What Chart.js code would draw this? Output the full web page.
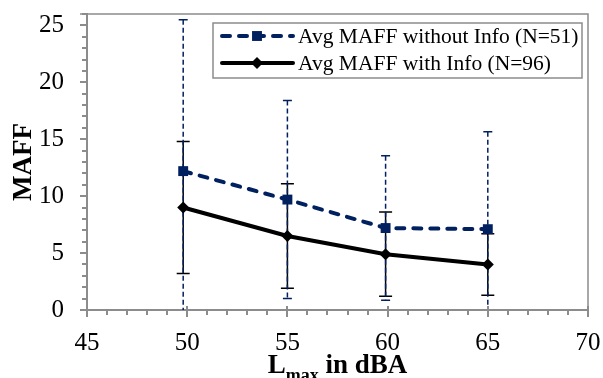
<!DOCTYPE html>
<html><head><meta charset="utf-8">
<script src="https://cdn.jsdelivr.net/npm/chart.js@4.4.1/dist/chart.umd.min.js"></script>
<style>html,body{margin:0;padding:0;background:#fff;}#c{display:block;}</style>
</head><body>
<canvas id="c" width="603" height="378"></canvas>
<script>
// ---- data ----
const xValues = [49.8, 55, 59.9, 65];
const withoutInfoMean = [12.2, 9.7, 7.2, 7.1];
const withoutInfoErr = [13.3, 8.7, 6.35, 8.55];
const withInfoMean = [9.0, 6.5, 4.9, 4.0];
const withInfoErr = [5.8, 4.6, 3.7, 2.7];
const seriesLabels = ['Avg MAFF without Info (N=51)', 'Avg MAFF with Info (N=96)'];
const xTicks = [45, 50, 55, 60, 65, 70];
const yTicks = [0, 5, 10, 15, 20, 25];
const xTitleParts = ['L', 'max', ' in dBA'];
const yTitle = 'MAFF';

// ---- styles ----
const SERIF = '"Liberation Serif", "Times New Roman", serif';
const NAVY = '#002060';
const AXIS = '#8c8c8c';

const errors = [withoutInfoErr, withInfoErr];

function zeroPad(s) { s.paddingTop = 0; s.paddingBottom = 0; s.paddingLeft = 0; s.paddingRight = 0; }

const errorBarPlugin = {
  id: 'errorBars',
  beforeDatasetsDraw(chart) {
    const ctx = chart.ctx, ca = chart.chartArea;
    const xs = chart.scales.x, ys = chart.scales.y;
    ctx.save();
    ctx.beginPath(); ctx.rect(ca.left, ca.top, ca.right - ca.left, ca.bottom - ca.top); ctx.clip();
    const styles = [
      {color: NAVY, width: 1.5, dash: [5, 3], cap: 4.5},
      {color: '#000', width: 1.5, dash: [], cap: 6.5}
    ];
    [1, 0].forEach(di => {
      const ds = chart.data.datasets[di];
      const st = styles[di];
      ds.data.forEach((p, i) => {
        const e = errors[di][i];
        const x = xs.getPixelForValue(p.x);
        const yt = ys.getPixelForValue(p.y + e);
        const yb = ys.getPixelForValue(p.y - e);
        ctx.strokeStyle = st.color; ctx.lineWidth = st.width;
        ctx.setLineDash(st.dash);
        ctx.beginPath(); ctx.moveTo(x, yt); ctx.lineTo(x, yb); ctx.stroke();
        ctx.setLineDash([]);
        ctx.beginPath();
        ctx.moveTo(x - st.cap, yt); ctx.lineTo(x + st.cap, yt);
        ctx.moveTo(x - st.cap, yb); ctx.lineTo(x + st.cap, yb);
        ctx.stroke();
      });
    });
    ctx.restore();
  }
};

const frameTicksPlugin = {
  id: 'frameTicks',
  beforeDatasetsDraw(chart) {
    const ctx = chart.ctx, ca = chart.chartArea;
    ctx.save();
    ctx.strokeStyle = AXIS; ctx.lineWidth = 1.5;
    ctx.beginPath();
    ctx.moveTo(ca.left - 7, ca.top); ctx.lineTo(ca.right, ca.top); ctx.lineTo(ca.right, ca.bottom);
    ctx.stroke();
    ctx.restore();
  },
  afterDraw(chart) {
    const ctx = chart.ctx, ca = chart.chartArea;
    const xs = chart.scales.x, ys = chart.scales.y;
    ctx.save();
    ctx.strokeStyle = AXIS; ctx.lineWidth = 2;
    ctx.beginPath();
    for (let v = Math.ceil(ys.min); v <= ys.max; v++) {
      const y = Math.round(ys.getPixelForValue(v));
      const len = (v % 5 === 0) ? 7 : 5;
      ctx.moveTo(ca.left - len, y); ctx.lineTo(ca.left, y);
    }
    for (let v = Math.ceil(xs.min); v <= xs.max; v++) {
      const x = Math.round(xs.getPixelForValue(v));
      if (v % 5 === 0) { ctx.moveTo(x, ca.bottom - 4); ctx.lineTo(x, ca.bottom + 7); }
      else { ctx.moveTo(x, ca.bottom); ctx.lineTo(x, ca.bottom + 5); }
    }
    ctx.stroke();

    // x axis title with subscript
    ctx.fillStyle = '#000';
    ctx.textBaseline = 'alphabetic';
    ctx.textAlign = 'left';
    const big = 'bold 27px ' + SERIF, small = 'bold 18px ' + SERIF;
    ctx.font = big; const w1 = ctx.measureText(xTitleParts[0]).width; const w3 = ctx.measureText(xTitleParts[2]).width;
    ctx.font = small; const w2 = ctx.measureText(xTitleParts[1]).width;
    const cx = (ca.left + ca.right) / 2;
    const x0 = cx - (w1 + w2 + w3) / 2;
    const base = ca.bottom + 63;
    ctx.font = big; ctx.fillText(xTitleParts[0], x0, base);
    ctx.font = small; ctx.fillText(xTitleParts[1], x0 + w1, base + 8);
    ctx.font = big; ctx.fillText(xTitleParts[2], x0 + w1 + w2, base);

    // legend
    const lx = ca.left + 126, ly = ca.top + 9, lw = 369, lh = 55;
    ctx.fillStyle = '#fff';
    ctx.fillRect(lx, ly, lw, lh);
    ctx.strokeStyle = AXIS; ctx.lineWidth = 1.5;
    ctx.strokeRect(lx, ly, lw, lh);
    const rows = [ly + 13, ly + 40];
    chart.data.datasets.forEach((ds, i) => {
      const y = rows[i];
      ctx.strokeStyle = ds.borderColor; ctx.lineWidth = ds.borderWidth;
      ctx.lineCap = ds.borderCapStyle || 'butt';
      ctx.setLineDash(ds.borderDash || []);
      ctx.beginPath(); ctx.moveTo(lx + 9, y); ctx.lineTo(lx + 80, y); ctx.stroke();
      ctx.setLineDash([]);
      ctx.fillStyle = ds.pointBackgroundColor;
      const mx = lx + 44;
      if (ds.pointStyle === 'rect') {
        const s = ds.pointRadius * Math.SQRT1_2;
        ctx.fillRect(mx - s, y - s, 2 * s, 2 * s);
      } else {
        const r = ds.pointRadius;
        ctx.beginPath(); ctx.moveTo(mx, y - r); ctx.lineTo(mx + r, y); ctx.lineTo(mx, y + r); ctx.lineTo(mx - r, y); ctx.closePath(); ctx.fill();
      }
      ctx.fillStyle = '#000';
      ctx.font = '21.5px ' + SERIF;
      ctx.textBaseline = 'middle';
      ctx.fillText(ds.label, lx + 85, y + 1);
    });
    ctx.restore();
  }
};

new Chart(document.getElementById('c'), {
  type: 'line',
  data: {
    datasets: [
      {
        label: seriesLabels[0],
        data: xValues.map((x, i) => ({x, y: withoutInfoMean[i]})),
        borderColor: NAVY, borderWidth: 4, borderDash: [8, 9], borderCapStyle: 'round',
        pointStyle: 'rect', pointRadius: 7, pointBackgroundColor: NAVY, pointBorderColor: NAVY, pointBorderWidth: 0,
        tension: 0, fill: false
      },
      {
        label: seriesLabels[1],
        data: xValues.map((x, i) => ({x, y: withInfoMean[i]})),
        borderColor: '#000', borderWidth: 4, borderCapStyle: 'round',
        pointStyle: 'rectRot', pointRadius: 6, pointBackgroundColor: '#000', pointBorderColor: '#000', pointBorderWidth: 0,
        tension: 0, fill: false
      }
    ]
  },
  options: {
    responsive: false, animation: false, devicePixelRatio: 1,
    layout: {padding: {top: 14, right: 15, left: 0, bottom: 0}},
    plugins: {legend: {display: false}, tooltip: {enabled: false}},
    scales: {
      x: {
        type: 'linear', min: 45, max: 70,
        afterBuildTicks: s => { s.ticks = xTicks.map(v => ({value: v})); },
        afterFit: s => { s.height = 68; zeroPad(s); },
        grid: {display: false, drawTicks: false},
        border: {display: true, color: AXIS, width: 2},
        ticks: {font: {family: SERIF, size: 25, lineHeight: 1}, color: '#000', padding: 21, maxRotation: 0}
      },
      y: {
        type: 'linear', min: 0, max: 26,
        afterBuildTicks: s => { s.ticks = yTicks.map(v => ({value: v})); },
        afterFit: s => { s.width = 87; zeroPad(s); },
        grid: {display: false, drawTicks: false},
        border: {display: true, color: AXIS, width: 2},
        ticks: {font: {family: SERIF, size: 25, lineHeight: 1}, color: '#000', padding: 23},
        title: {display: true, text: yTitle, color: '#000', font: {family: SERIF, size: 27, weight: 'bold', lineHeight: 1.2}, padding: {top: 8, bottom: 0}}
      }
    }
  },
  plugins: [frameTicksPlugin, errorBarPlugin]
});
</script>
</body></html>
